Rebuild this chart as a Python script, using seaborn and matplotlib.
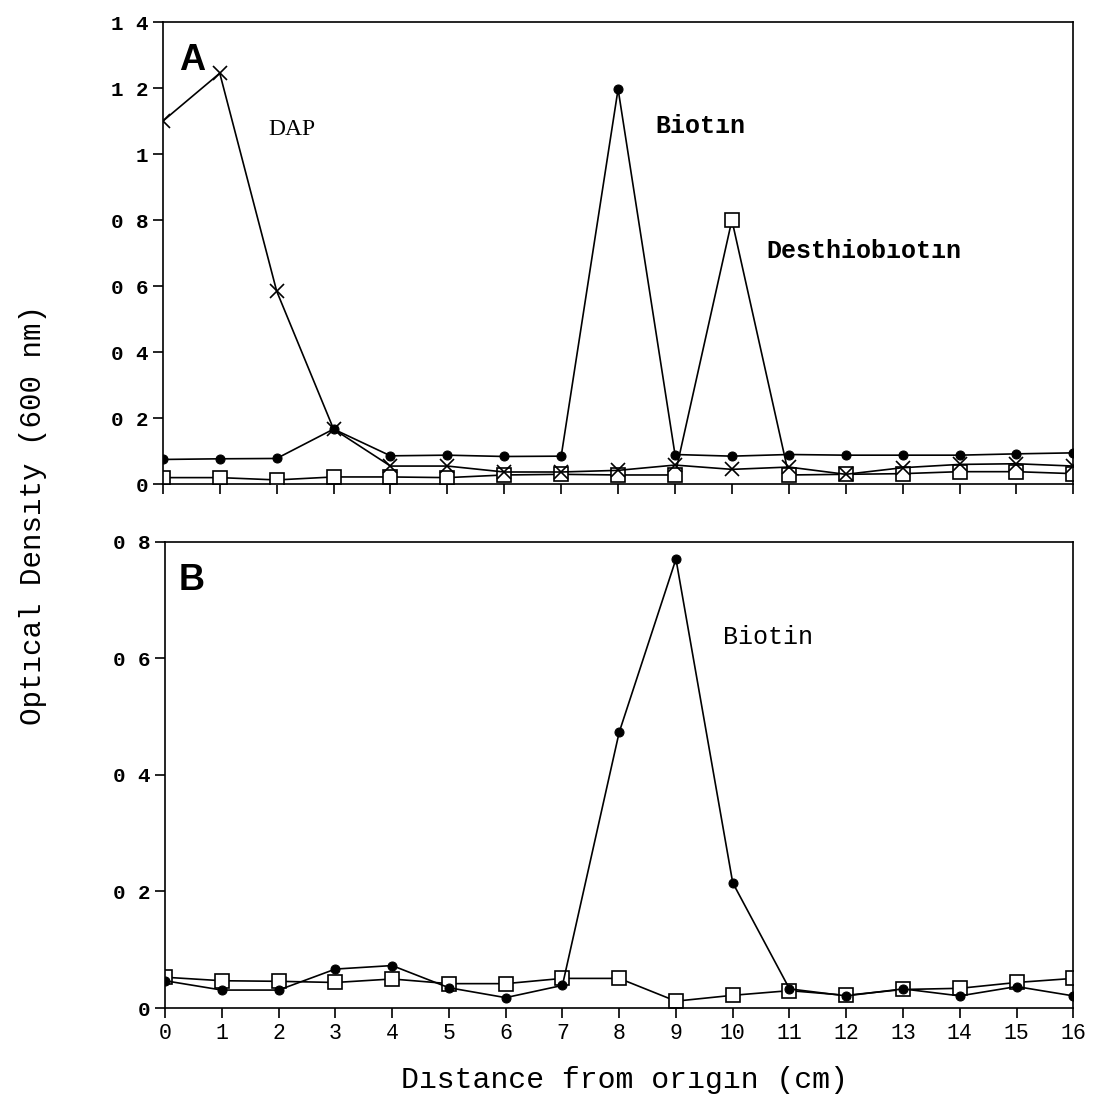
import matplotlib
matplotlib.use("Agg")
import matplotlib.pyplot as plt
import seaborn as sns

# distance from origin (cm)
distance = list(range(17))

# Panel A
a_dap = [1.10, 1.245, 0.585, 0.167, 0.055, 0.055, 0.037, 0.037, 0.042,
         0.058, 0.045, 0.052, 0.030, 0.050, 0.060, 0.062, 0.055]
a_biotin = [0.075, 0.077, 0.078, 0.167, 0.086, 0.088, 0.084, 0.085, 1.197,
            0.090, 0.085, 0.090, 0.088, 0.088, 0.088, 0.092, 0.095]
a_desthio = [0.020, 0.020, 0.013, 0.022, 0.022, 0.020, 0.028, 0.030, 0.028,
             0.028, 0.800, 0.028, 0.030, 0.032, 0.038, 0.038, 0.032]

# Panel B
b_biotin = [0.047, 0.031, 0.031, 0.067, 0.073, 0.035, 0.018, 0.039, 0.473,
            0.770, 0.215, 0.033, 0.021, 0.033, 0.021, 0.037, 0.021]
b_square = [0.053, 0.047, 0.046, 0.044, 0.050, 0.042, 0.042, 0.051, 0.051,
            0.012, 0.022, 0.030, 0.022, 0.032, 0.034, 0.044, 0.051]

a_yticks = [0, 0.2, 0.4, 0.6, 0.8, 1.0, 1.2, 1.4]
a_ylabels = ["0", "0 2", "0 4", "0 6", "0 8", "1", "1 2", "1 4"]
b_yticks = [0, 0.2, 0.4, 0.6, 0.8]
b_ylabels = ["0", "0 2", "0 4", "0 6", "0 8"]

sns.set_theme(style="ticks")
plt.rcParams["font.family"] = ["Liberation Mono", "DejaVu Sans Mono"]
plt.rcParams["axes.edgecolor"] = "black"
plt.rcParams["axes.linewidth"] = 1.2
plt.rcParams["text.color"] = "black"
plt.rcParams["xtick.color"] = "black"
plt.rcParams["ytick.color"] = "black"
plt.rcParams["xtick.labelcolor"] = "black"
plt.rcParams["ytick.labelcolor"] = "black"

fig = plt.figure(figsize=(10.93, 11.03), dpi=100)
ax_a = fig.add_axes([0.149, 0.561, 0.833, 0.419])
ax_b = fig.add_axes([0.151, 0.086, 0.831, 0.423])

line_kw = dict(color="black", linewidth=1.2)
dot_kw = dict(marker="o", markersize=6.5, markerfacecolor="black", markeredgecolor="black")
sq_kw = dict(marker="s", markersize=9.5, markerfacecolor="white", markeredgecolor="black",
             markeredgewidth=1.2)
x_kw = dict(marker="x", markersize=10, markeredgecolor="black", markeredgewidth=1.2)

sns.lineplot(x=distance, y=a_desthio, ax=ax_a, **line_kw, **sq_kw)
sns.lineplot(x=distance, y=a_dap, ax=ax_a, **line_kw, **x_kw)
sns.lineplot(x=distance, y=a_biotin, ax=ax_a, **line_kw, **dot_kw)

sns.lineplot(x=distance, y=b_square, ax=ax_b, **line_kw, **sq_kw)
sns.lineplot(x=distance, y=b_biotin, ax=ax_b, **line_kw, **dot_kw)

for ax in (ax_a, ax_b):
    ax.set_xlim(0, 16)
    ax.set_xticks(distance)
    ax.tick_params(direction="out", length=7, width=1.2, color="black")
    for s in ax.spines.values():
        s.set_visible(True)
        s.set_color("black")
        s.set_linewidth(1.2)
    ax.set_xlabel("")
    ax.set_ylabel("")

ax_a.set_ylim(0, 1.4)
ax_a.set_yticks(a_yticks)
ax_a.set_yticklabels(a_ylabels, fontsize=15, fontweight="bold")
ax_a.set_xticklabels([])

ax_b.set_ylim(0, 0.8)
ax_b.set_yticks(b_yticks)
ax_b.set_yticklabels(b_ylabels, fontsize=15, fontweight="bold")
ax_b.set_xticklabels([str(d) for d in distance], fontsize=15.5)
ax_b.tick_params(axis="x", pad=4)

# panel letters
ax_a.text(0.018, 0.955, "A", transform=ax_a.transAxes, fontsize=26, fontweight="bold",
          family="Liberation Sans", va="top", ha="left")
ax_b.text(0.015, 0.955, "B", transform=ax_b.transAxes, fontsize=26, fontweight="bold",
          family="Liberation Sans", va="top", ha="left")

# peak labels
ax_a.text(1.85, 1.076, "DAP", fontsize=17, family="Liberation Serif", va="center", ha="left")
ax_a.text(8.65, 1.085, "Biotın", fontsize=18, fontweight="bold", va="center", ha="left")
ax_a.text(10.6, 0.706, "Desthiobıotın", fontsize=18, fontweight="bold", va="center", ha="left")
ax_b.text(9.82, 0.636, "Biotin", fontsize=18, va="center", ha="left")

fig.text(0.571, 1 - 1080 / 1103, "Dıstance from orıgın (cm)", fontsize=21.5,
         ha="center", va="center")
fig.text(33 / 1093, 1 - 515 / 1103, "Optıcal Densıty (600 nm)", fontsize=21,
         rotation=90, ha="center", va="center")

fig.savefig("out.png", dpi=100, facecolor="white")
